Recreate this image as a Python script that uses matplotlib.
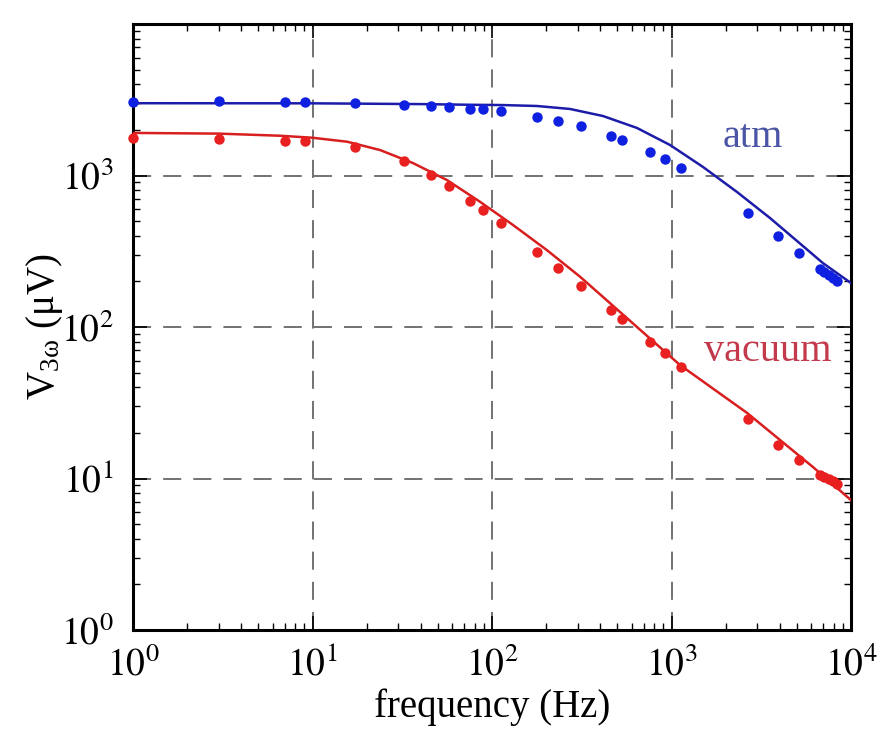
import matplotlib
matplotlib.use("Agg")
import matplotlib.pyplot as plt
from matplotlib.ticker import LogLocator, NullFormatter, FixedLocator

# ---- data ----
freq_pts = [1, 3.0, 7.0, 9.1, 17.3, 32.3, 45.7, 57.6, 75.4, 89.1, 112, 178, 233,
            313, 460, 530, 759, 920, 1130, 2670, 3920, 5130, 6720, 7100, 7530, 7930, 8360]
atm_pts = [3055, 3100, 3060, 3040, 3020, 2930, 2890, 2845, 2760, 2750, 2665, 2432,
           2290, 2123, 1825, 1716, 1430, 1285, 1120, 566, 399, 308, 241, 231, 220, 210, 201]
vac_pts = [1770, 1745, 1695, 1685, 1535, 1247, 1008, 853, 679, 590, 487, 313, 245,
           187, 129, 113, 79.6, 67.3, 54.4, 24.7, 16.6, 13.2, 10.5, 10.2, 9.93, 9.62, 9.2]

atm_fit_f = [1, 10, 40, 75, 115, 178, 272, 415, 642, 981, 1499, 2318, 3538, 4570, 6980, 10000]
atm_fit_v = [3000, 2995, 2960, 2930, 2917, 2876, 2749, 2470, 2060, 1590, 1138, 778, 524, 405, 264, 195]

vac_fit_f = [1, 3, 6.6, 10, 15.6, 23.8, 36.3, 56.1, 85.7, 131, 202, 309, 415, 1115, 2635, 6140, 10000]
vac_fit_v = [1910, 1890, 1830, 1775, 1671, 1472, 1208, 933, 671, 471, 322, 215, 158, 56.1, 27.1, 11.9, 7.2]

x_ticks = [1, 10, 100, 1000, 10000]
x_tick_labels = [r"$10^{0}$", r"$10^{1}$", r"$10^{2}$", r"$10^{3}$", r"$10^{4}$"]
y_ticks = [1, 10, 100, 1000]
y_tick_labels = [r"$10^{0}$", r"$10^{1}$", r"$10^{2}$", r"$10^{3}$"]

# ---- style ----
plt.rcParams['font.family'] = ['Liberation Serif', 'DejaVu Serif']
plt.rcParams['mathtext.fontset'] = 'stix'

fig = plt.figure(figsize=(8.9, 7.34), dpi=100)
ax = fig.add_axes([133/890, 104/734, 718/890, 606/734])
ax.set_xscale('log')
ax.set_yscale('log')
ax.set_xlim(1, 1e4)
ax.set_ylim(1, 1e4)

blue_pt = '#1020e0'
red_pt = '#e82020'
blue_ln = '#1c1ca8'
red_ln = '#d81e1e'

ax.plot(atm_fit_f, atm_fit_v, color=blue_ln, lw=1.8, zorder=3)
ax.plot(vac_fit_f, vac_fit_v, color=red_ln, lw=1.8, zorder=3)
ax.plot(freq_pts, atm_pts, 'o', color=blue_pt, ms=7.5, mew=0, zorder=4, clip_on=False)
ax.plot(freq_pts, vac_pts, 'o', color=red_pt, ms=7.5, mew=0, zorder=4, clip_on=False)

ax.xaxis.set_major_locator(FixedLocator(x_ticks))
ax.set_xticklabels(x_tick_labels)
ax.yaxis.set_major_locator(FixedLocator(y_ticks))
ax.set_yticklabels(y_tick_labels)
ax.xaxis.set_minor_locator(LogLocator(base=10, subs=range(2, 10), numticks=20))
ax.yaxis.set_minor_locator(LogLocator(base=10, subs=range(2, 10), numticks=20))
ax.xaxis.set_minor_formatter(NullFormatter())
ax.yaxis.set_minor_formatter(NullFormatter())

ax.tick_params(which='both', direction='in', top=True, right=True, colors='black',
               labelsize=27)
ax.tick_params(which='major', length=10, width=1.2)
ax.tick_params(axis='x', which='major', pad=12)
ax.tick_params(axis='y', which='major', pad=14)
ax.tick_params(which='minor', length=5, width=1.0)
for s in ax.spines.values():
    s.set_linewidth(2.2)

ax.grid(True, which='major', color='#727272', linestyle=(0, (9.3, 6.2)), linewidth=1.4)

ax.text(2845, 1770, 'atm', color='#4b55a5', fontsize=29, ha='center', va='center')
ax.text(3450, 68.4, 'vacuum', color='#c23a4c', fontsize=29, ha='center', va='center')

ax.set_xlabel('frequency (Hz)', fontsize=28, labelpad=4)
ax.set_ylabel(r'V$_{\mathregular{3ω}}$ (μV)', fontsize=28, labelpad=-3)

fig.savefig('out.png', dpi=100)
